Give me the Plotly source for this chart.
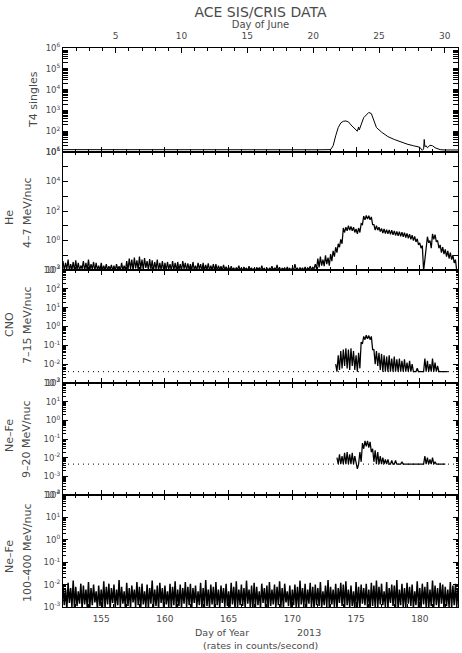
import numpy as np
import plotly.graph_objects as go

# ---------------- data ----------------
doy_range = [152, 183]          # day of year 2013
june_range = [1, 31]            # day of June
doy_ticks = [155, 160, 165, 170, 175, 180]
june_ticks = [5, 10, 15, 20, 25, 30]

# T4 singles (counts/s)
t4_day = [152, 160, 168, 172, 173.0, 173.2, 173.4, 173.6, 173.8, 174.0, 174.2, 174.4,
          174.6, 174.8, 175.0, 175.1, 175.2, 175.25, 175.3, 175.4, 175.6, 175.8, 176.0,
          176.2, 176.4, 176.6, 177.0, 177.5, 178.0, 178.5, 179.0, 179.5, 180.0, 180.2,
          180.3, 180.35, 180.4, 180.5, 180.6, 180.8, 181.0, 181.2, 181.4, 181.6, 182, 183]
t4_rate = [13, 12.5, 12.5, 12.8, 13, 20, 60, 150, 250, 300, 310, 280,
           200, 150, 110, 100, 160, 115, 140, 200, 450, 600, 800,
           700, 300, 150, 90, 55, 40, 30, 24, 20, 17, 12,
           14, 40, 18, 20, 16, 21, 20, 16, 14, 13, 12.5, 12.5]

# He 4-7 MeV/nuc, every 0.1 day from day 152.0
he_start, he_step = 152.0, 0.1
he_rate = [
    .04, .009, .03, .012, .05, .009, .025, .01, .035, .009,
    .045, .01, .03, .009, .02, .012, .04, .009, .03, .01,
    .05, .009, .025, .011, .035, .009, .03, .01, .02, .009,
    .03, .009, .02, .01, .025, .009, .018, .011, .022, .009,
    .02, .009, .025, .01, .018, .009, .03, .01, .02, .009,
    .04, .01, .06, .012, .05, .009, .07, .013, .045, .01,
    .08, .012, .05, .01, .065, .014, .04, .01, .055, .011,
    .045, .009, .035, .011, .05, .009, .03, .01, .04, .009,
    .03, .009, .035, .011, .025, .009, .04, .01, .03, .009,
    .035, .01, .025, .009, .04, .012, .03, .009, .028, .01,
    .025, .009, .035, .01, .02, .009, .03, .011, .025, .009,
    .03, .009, .022, .01, .028, .009, .02, .01, .025, .009,
    .025, .009, .02, .01, .018, .009, .022, .01, .017, .009,
    .016, .009, .018, .01, .014, .009, .015, .01, .02, .009,
    .014, .009, .016, .011, .013, .009, .018, .01, .014, .009,
    .013, .009, .015, .011, .014, .009, .02, .01, .013, .009,
    .014, .009, .013, .011, .018, .009, .014, .01, .022, .009,
    .015, .009, .013, .011, .014, .009, .016, .01, .013, .009,
    .014, .009, .025, .011, .013, .009, .015, .01, .014, .009,
    .016, .009, .014, .011, .018, .01, .015, .012, .025, .012,
    .06, .015, .08, .02, .05, .018, .1, .025, .07, .02,
    .12, .04, .2, .08, .35, .15, .6, .35, 1.2, .6,
    7, 3.5, 8, 4.5, 10, 5, 9, 4.5, 8, 3.5,
    6, 2.8, 7, 3.5, 14, 12, 45, 25, 50, 28,
    48, 25, 40, 12, 12, 5, 10, 5, 8, 4,
    6.5, 3.2, 6, 3, 5.5, 2.8, 5.2, 2.6, 5, 2.4,
    4.5, 2.2, 4.2, 2.1, 4, 1.9, 3.7, 1.8, 3.4, 1.6,
    3, 1.4, 2.7, 1.2, 2.3, 1.0, 1.9, 0.8, 1.3, 0.5,
    0.7, 0.3, 0.45, 0.009, 0.05, 0.4, 1.8, 0.7, 1.0, 0.3,
    2.8, 1.2, 2.5, 0.8, 1.0, 0.3, 0.5, 0.15, 0.35, 0.12,
    0.25, 0.08, 0.2, 0.06, 0.15, 0.05, 0.1, 0.03, 0.05, 0.009,
    0.009]

# CNO 7-15 MeV/nuc, every 0.1 day from day 173.4
cno_start, cno_step = 173.4, 0.1
cno_base = 0.004
cno_rate = [
    0.01, 0.004, 0.03, 0.005, 0.05, 0.006, 0.06, 0.008, 0.07, 0.006,
    0.06, 0.005, 0.07, 0.008, 0.05, 0.005, 0.03, 0.004, 0.04, 0.006,
    0.15, 0.12, 0.3, 0.2, 0.35, 0.22, 0.33, 0.2, 0.3, 0.06,
    0.06, 0.01, 0.05, 0.008, 0.04, 0.005, 0.035, 0.004, 0.03, 0.004,
    0.025, 0.004, 0.03, 0.004, 0.02, 0.004, 0.025, 0.004, 0.018, 0.004,
    0.02, 0.004, 0.015, 0.004, 0.018, 0.004, 0.012, 0.004, 0.015, 0.004,
    0.01, 0.004, 0.004, 0.004, 0.006, 0.004, 0.004, 0.004, 0.004, 0.004,
    0.02, 0.004, 0.015, 0.004, 0.01, 0.004, 0.02, 0.004, 0.012, 0.004,
    0.008, 0.004, 0.004, 0.004, 0.004, 0.004, 0.004, 0.004, 0.004]

# Ne-Fe 9-20 MeV/nuc, every 0.1 day from day 173.5
nefe9_start, nefe9_step = 173.5, 0.1
nefe9_base = 0.0045
nefe9_rate = [
    0.01, 0.0045, 0.015, 0.0045, 0.012, 0.0045, 0.018, 0.0045, 0.02, 0.0045,
    0.015, 0.0045, 0.018, 0.0045, 0.012, 0.0045, 0.0025, 0.0045, 0.02, 0.006,
    0.06, 0.03, 0.08, 0.04, 0.08, 0.035, 0.07, 0.02, 0.03, 0.006,
    0.025, 0.0045, 0.02, 0.0045, 0.012, 0.0045, 0.01, 0.0045, 0.008, 0.0045,
    0.008, 0.0045, 0.0045, 0.007, 0.0045, 0.0045, 0.007, 0.0045, 0.0045, 0.0045,
    0.0045, 0.006, 0.0045, 0.0045, 0.0045, 0.0045, 0.0045, 0.0045, 0.0045, 0.0045,
    0.0045, 0.0045, 0.0045, 0.0045, 0.0045, 0.0045, 0.0045, 0.0045, 0.0045, 0.012,
    0.0045, 0.01, 0.0045, 0.008, 0.0045, 0.01, 0.0045, 0.006, 0.0045, 0.0045,
    0.0045, 0.0045, 0.0045, 0.0045, 0.0045, 0.0045]

# Ne-Fe 100-400 MeV/nuc, every 0.1 day from day 152.0
nefe100_start, nefe100_step = 152.0, 0.1
nefe100_rate = [
    .009, .0012, .006, .0008, .012, .0015, .007, .001, .015, .0009,
    .008, .0011, .005, .0014, .011, .0008, .009, .0013, .006, .001,
    .013, .0009, .007, .0012, .01, .0016, .005, .0008, .009, .0011,
    .006, .001, .014, .0009, .008, .0013, .011, .0008, .007, .0015,
    .01, .0009, .006, .0012, .016, .001, .008, .0014, .005, .0008,
    .012, .0011, .007, .0009, .009, .0016, .006, .001, .013, .0012,
    .008, .0008, .011, .0013, .005, .001, .01, .0009, .007, .0014,
    .015, .001, .006, .0011, .009, .0008, .012, .0015, .007, .0009,
    .009, .0013, .005, .001, .011, .0009, .008, .0012, .014, .0008,
    .006, .0011, .01, .0009, .007, .0014, .013, .001, .008, .0012,
    .011, .0008, .007, .0015, .009, .001, .005, .0012, .012, .0009,
    .007, .001, .016, .0011, .006, .0009, .01, .0013, .008, .0008,
    .013, .0012, .006, .0009, .009, .0015, .007, .001, .011, .0011,
    .005, .0009, .012, .0013, .008, .0008, .014, .001, .006, .0012,
    .01, .0011, .007, .0009, .015, .0014, .006, .001, .009, .0008,
    .012, .001, .008, .0012, .005, .0009, .011, .0015, .007, .001,
    .009, .0008, .013, .0011, .006, .0013, .01, .0009, .008, .0012,
    .014, .001, .007, .0009, .011, .0016, .005, .0011, .009, .0008,
    .006, .0012, .01, .001, .008, .0009, .015, .0013, .007, .001,
    .011, .0009, .006, .0014, .012, .001, .008, .0008, .01, .0012,
    .007, .0011, .013, .0009, .005, .0012, .009, .001, .016, .0009,
    .008, .0013, .006, .001, .011, .0008, .007, .0015, .012, .0011,
    .01, .0009, .014, .0012, .006, .001, .009, .0011, .005, .0008,
    .013, .001, .008, .0009, .01, .0014, .007, .0012, .011, .001,
    .006, .0008, .012, .0011, .009, .001, .015, .0009, .008, .0013,
    .011, .0012, .005, .001, .013, .0009, .007, .0015, .01, .0011,
    .009, .001, .016, .0008, .006, .0012, .011, .001, .007, .0009,
    .012, .0014, .008, .0011, .01, .0009, .005, .0012, .014, .001,
    .007, .0009, .011, .0013, .008, .001, .013, .0008, .006, .0011,
    .015, .001, .009, .0012, .007, .0009, .012, .0014, .01, .0008,
    .008, .0011, .006, .001, .013, .0009, .009, .0012, .011, .001,
    .007]

panel_ranges = [[1, 6], [-2, 6], [-3, 3], [-4, 2], [-3, 2]]
panel_labels = [("", "T4 singles"), ("He", "4\u20137 MeV/nuc"), ("CNO", "7\u201315 MeV/nuc"),
                ("Ne\u2013Fe", "9\u201320 MeV/nuc"), ("Ne\u2013Fe", "100\u2013400 MeV/nuc")]

# ---------------- figure ----------------
W, H = 462, 653
ML, MR, MT, MB = 63, 4, 48, 46
PW, PH = W - ML - MR, H - MT - MB
bounds_px = [48, 152, 270, 383, 495, 607]
def py(px):
    return (H - MB - px) / PH
def pxx(px):
    return (px - ML) / PW

FONT = "DejaVu Sans"
TXT = "#4a4a4a"
LINE = dict(color="black", width=1)
NOISE = dict(color="black", width=1.25)
DOTS = dict(color="black", width=1, dash="1px,4px")

def series_days(start, step, n):
    return start + step * np.arange(n)

fig = go.Figure()
fig.add_trace(go.Scatter(x=t4_day, y=t4_rate, mode="lines", line=LINE, xaxis="x", yaxis="y"))
# carrier for the Day-of-June axis (no visible marks)
fig.add_trace(go.Scatter(x=june_range, y=[None, None], mode="lines", line=LINE,
                         xaxis="x6", yaxis="y", hoverinfo="skip"))
fig.add_trace(go.Scatter(x=series_days(he_start, he_step, len(he_rate)), y=he_rate,
                         mode="lines", line=NOISE, xaxis="x2", yaxis="y2"))
fig.add_trace(go.Scatter(x=doy_range, y=[cno_base, cno_base], mode="lines",
                         line=DOTS, xaxis="x3", yaxis="y3"))
fig.add_trace(go.Scatter(x=series_days(cno_start, cno_step, len(cno_rate)), y=cno_rate,
                         mode="lines", line=NOISE, xaxis="x3", yaxis="y3"))
fig.add_trace(go.Scatter(x=doy_range, y=[nefe9_base, nefe9_base], mode="lines",
                         line=DOTS, xaxis="x4", yaxis="y4"))
fig.add_trace(go.Scatter(x=series_days(nefe9_start, nefe9_step, len(nefe9_rate)), y=nefe9_rate,
                         mode="lines", line=NOISE, xaxis="x4", yaxis="y4"))
fig.add_trace(go.Scatter(x=series_days(nefe100_start, nefe100_step, len(nefe100_rate)), y=nefe100_rate,
                         mode="lines", line=dict(color="black", width=1.5), xaxis="x5", yaxis="y5"))

tickfont = dict(family=FONT, size=8.5, color=TXT)
layout = dict(width=W, height=H, margin=dict(l=ML, r=MR, t=MT, b=MB),
              paper_bgcolor="white", plot_bgcolor="white", showlegend=False,
              title=dict(text="ACE SIS/CRIS DATA", x=0.5, xref="paper", xanchor="center",
                         y=1 - 12 / H, yref="container", yanchor="middle",
                         font=dict(family=FONT, size=14, color=TXT)))

for i in range(5):
    lo_px, hi_px = bounds_px[i + 1], bounds_px[i]
    dom = [py(lo_px), py(hi_px)]
    r = panel_ranges[i]
    decades = list(range(r[0], r[1] + 1))
    major = [10.0 ** d for d in decades]
    if i == 1:
        text = ["10<sup>%d</sup>" % d if d % 2 == 0 else "" for d in decades]
        minor_vals = []
    else:
        text = ["10<sup>%d</sup>" % d for d in decades]
        minor_vals = [k * 10.0 ** d for d in decades[:-1] for k in range(2, 10)]
    ykey = "yaxis" if i == 0 else "yaxis%d" % (i + 1)
    xkey = "xaxis" if i == 0 else "xaxis%d" % (i + 1)
    layout[ykey] = dict(type="log", domain=dom, range=r, anchor="x" if i == 0 else "x%d" % (i + 1),
                        tickmode="array", tickvals=major, ticktext=text,
                        ticks="inside", ticklen=5, tickwidth=1, tickcolor="black",
                        showline=True, linecolor="black", linewidth=1, mirror="allticks",
                        showgrid=False, zeroline=False, tickfont=tickfont,
                        minor=dict(tickmode="array", tickvals=minor_vals, ticks="inside",
                                   ticklen=2.5, tickcolor="black", showgrid=False))
    layout[xkey] = dict(domain=[0, 1], range=doy_range, anchor="y" if i == 0 else "y%d" % (i + 1),
                        tickmode="array", tickvals=doy_ticks, ticks="inside", ticklen=5,
                        tickcolor="black", showline=True, linecolor="black", linewidth=1,
                        mirror=True if i == 0 else "allticks", showgrid=False, zeroline=False,
                        showticklabels=(i == 4), tickfont=dict(family=FONT, size=9, color=TXT),
                        ticklabelstandoff=3,
                        minor=dict(dtick=1, tick0=152, ticks="inside", ticklen=3,
                                   tickcolor="black", showgrid=False))
    if i > 0:
        layout[xkey]["matches"] = "x"

layout["xaxis6"] = dict(overlaying="x", side="top", anchor="y", range=june_range,
                        tickmode="array", tickvals=june_ticks, ticks="inside", ticklen=5,
                        tickcolor="black", showgrid=False, zeroline=False, showline=False,
                        tickfont=dict(family=FONT, size=9, color=TXT), ticklabelstandoff=6,
                        title=dict(text="Day of June", font=dict(family=FONT, size=10, color=TXT),
                                   standoff=0),
                        minor=dict(dtick=1, tick0=1, ticks="inside", ticklen=3,
                                   tickcolor="black", showgrid=False))

ann = []
ylab_px = [(None, 100), (218, 213), (325, 326), (436, 440), (557, 553)]
for i, (l1, l2) in enumerate(panel_labels):
    if l1:
        ann.append(dict(text=l1, x=pxx(9), y=py(ylab_px[i][0]), xref="paper", yref="paper",
                        textangle=-90, showarrow=False, xanchor="center", yanchor="middle",
                        font=dict(family=FONT, size=11, color=TXT)))
        ann.append(dict(text=l2, x=pxx(27), y=py(ylab_px[i][1]), xref="paper", yref="paper",
                        textangle=-90, showarrow=False, xanchor="center", yanchor="middle",
                        font=dict(family=FONT, size=11, color=TXT)))
    else:
        ann.append(dict(text=l2, x=pxx(33), y=py(ylab_px[i][1]), xref="paper", yref="paper",
                        textangle=-90, showarrow=False, xanchor="center", yanchor="middle",
                        font=dict(family=FONT, size=11, color=TXT)))

for txt, xp, yp in [("Day of Year", 222, 632), ("2013", 309, 632),
                    ("(rates in counts/second)", 260, 645)]:
    ann.append(dict(text=txt, x=pxx(xp), y=py(yp), xref="paper", yref="paper",
                    showarrow=False, xanchor="center", yanchor="middle",
                    font=dict(family=FONT, size=9.5, color=TXT)))
layout["annotations"] = ann

fig.update_layout(**layout)
fig.write_html("out.html", config={"displayModeBar": False},
               post_script="document.body.style.margin='0px';")
